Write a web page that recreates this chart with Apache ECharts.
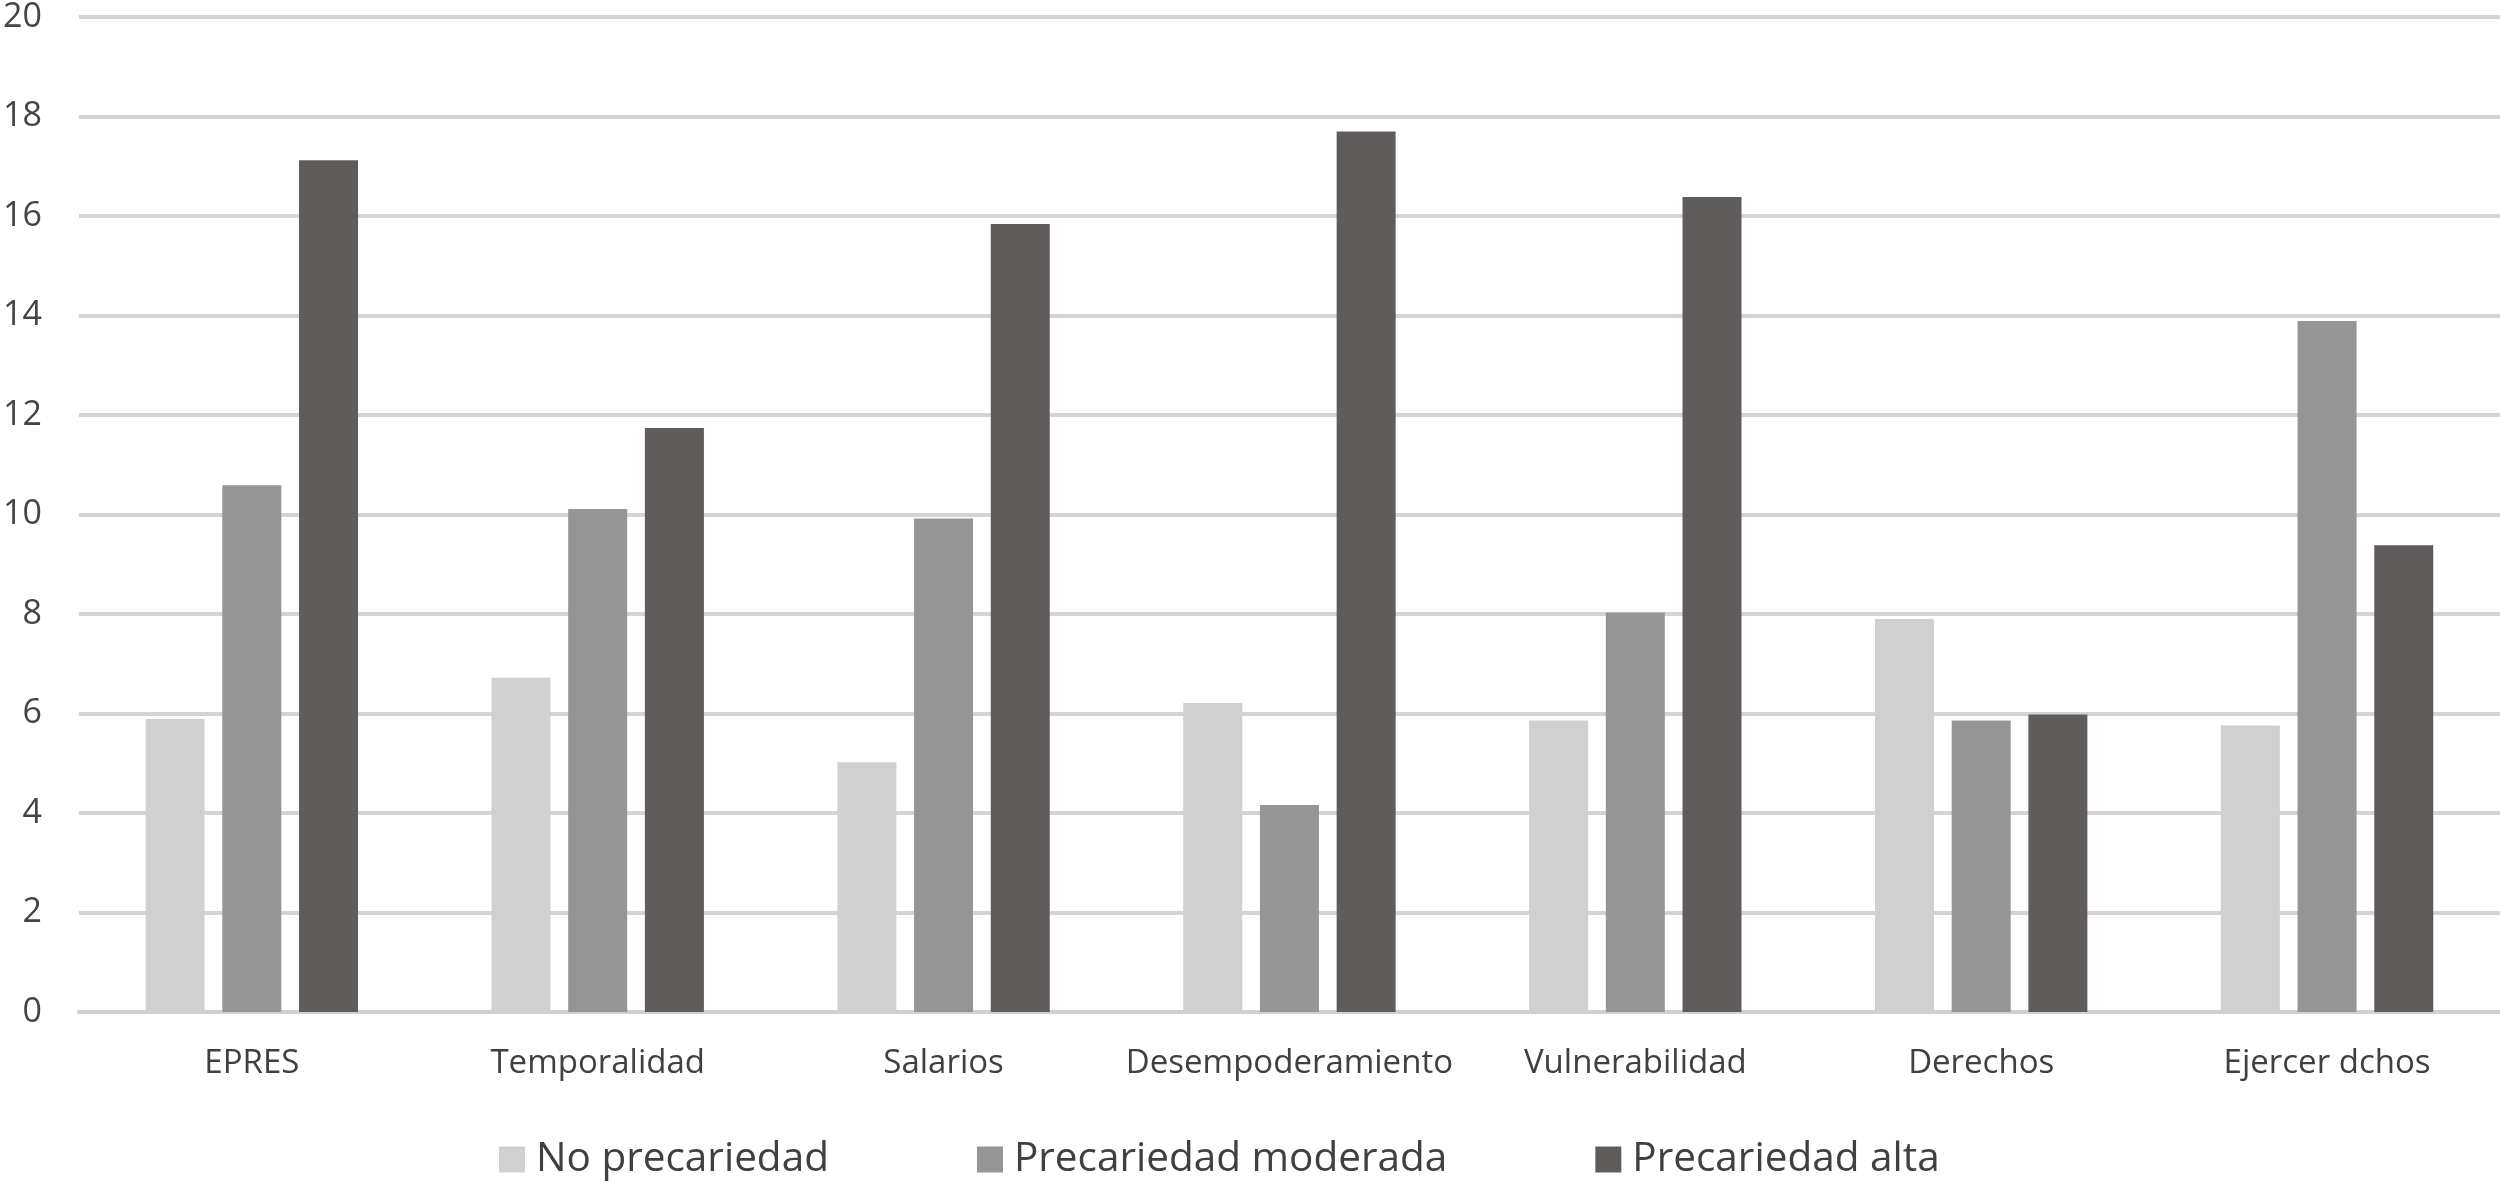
<!DOCTYPE html>
<html>
<head>
<meta charset="utf-8">
<script src="https://cdn.jsdelivr.net/npm/echarts@6/dist/echarts.min.js"></script>
<style>
html,body{margin:0;padding:0;background:#fff;}
#c{width:2500px;height:1182px;}
</style>
</head>
<body>
<div id="c"></div>
<script>
const categories = ['EPRES','Temporalidad','Salarios','Desempoderamiento','Vulnerabilidad','Derechos','Ejercer dchos'];
const seriesNames = ['No precariedad','Precariedad moderada','Precariedad alta'];
const noPrecariedad = [5.89, 6.72, 5.02, 6.21, 5.86, 7.90, 5.76];
const precariedadModerada = [10.59, 10.11, 9.92, 4.16, 8.03, 5.86, 13.89];
const precariedadAlta = [17.12, 11.74, 15.84, 17.70, 16.38, 5.98, 9.38];
const yTicks = {min: 0, max: 20, interval: 2};

const colors = ['#d0d0d0', '#959595', '#605c5b'];
const font = 'Open Sans';
const chart = echarts.init(document.getElementById('c'));
const mk = (name, data, i) => ({
  name, type: 'bar', data,
  barWidth: 59, barGap: '30%',
  itemStyle: {color: colors[i]}
});
chart.setOption({
  animation: false,
  backgroundColor: '#fff',
  grid: {left: 78, right: 0, top: 15, bottom: 170, containLabel: false},
  legend: {
    data: seriesNames,
    left: 494, top: 1134,
    itemWidth: 26, itemHeight: 26, itemGap: 148,
    icon: 'rect',
    textStyle: {fontFamily: font, fontSize: 40.5, color: '#404040', padding: [0,0,0,6]}
  },
  xAxis: {
    type: 'category', data: categories,
    axisLine: {show: true, lineStyle: {color: '#d0d0d0', width: 4}},
    axisTick: {show: false},
    axisLabel: {interval: 0, fontFamily: font, fontSize: 33, color: '#404040', margin: 35}
  },
  yAxis: {
    type: 'value', min: yTicks.min, max: yTicks.max, interval: yTicks.interval,
    axisLine: {show: false}, axisTick: {show: false},
    splitLine: {lineStyle: {color: '#d4d4d4', width: 4}},
    axisLabel: {fontFamily: font, fontSize: 34, color: '#444', margin: 37}
  },
  series: [
    mk(seriesNames[0], noPrecariedad, 0),
    mk(seriesNames[1], precariedadModerada, 1),
    mk(seriesNames[2], precariedadAlta, 2)
  ]
});
</script>
</body>
</html>
